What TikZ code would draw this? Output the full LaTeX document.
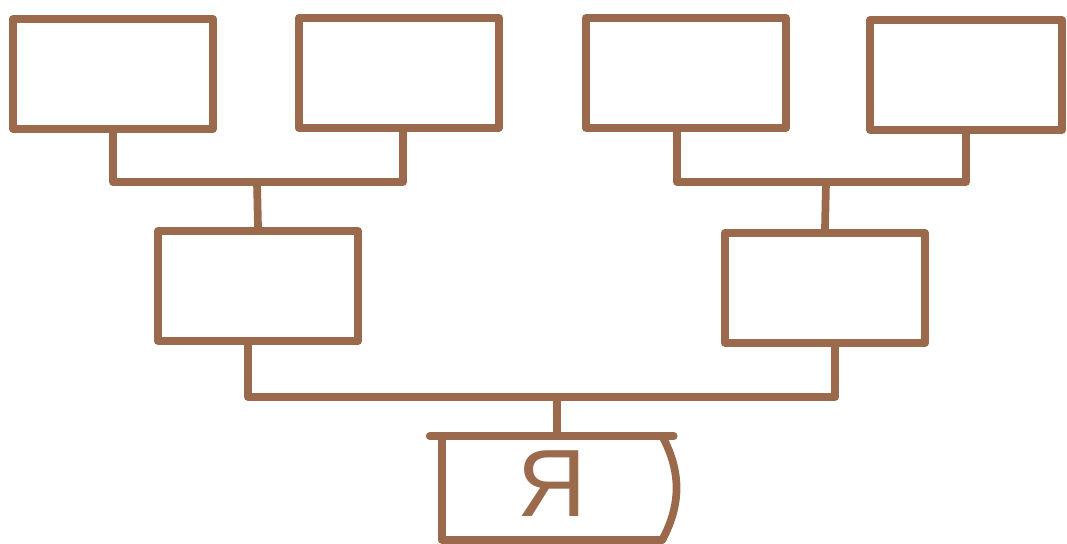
\documentclass[tikz,border=0pt]{standalone}
\usepackage{fontspec}
\newfontfamily\cyrfont{Liberation Sans}
\usetikzlibrary{positioning}
\definecolor{ink}{RGB}{155,106,76}

\begin{document}
\begin{tikzpicture}[x=0.025cm, y=-0.025cm,
  % Node styles
  box/.style={draw=ink, line width=5.5pt, line join=round, minimum width=5cm,
              minimum height=2.75cm, inner sep=0pt},
  mebox/.style={minimum width=5.5cm, minimum height=2.575cm, inner sep=0pt},
  melbl/.style={font=\cyrfont\fontsize{68}{68}\selectfont, text=ink, inner sep=2pt},
  % Line style
  ink/.style={draw=ink, line width=5.5pt, line cap=round, line join=round},
]
\useasboundingbox (0,0) rectangle (1067,544);

% === Row 1: grandparents ===
\node[box] (gp1) at (113,74) {};
\node[box] (gp2) at (399,73) {};
\node[box] (gp3) at (686,73) {};
\node[box, minimum width=4.8cm] (gp4) at (966,75) {};

% === Row 2: parents ===
\node[box] (p1) at (258,286) {};
\node[box] (p2) at (825,288) {};

% === Row 3: me ===
\node[mebox] (me) at (552,488) {};
\node[melbl] (mename) at ([yshift=0.1cm]me.center) {Я};

% === Junctions ===
\coordinate (j1) at (257,182);
\coordinate (j2) at (826,182);
\coordinate (j3) at (557,397);

% === Connectors ===
\draw[ink] (gp1.south) |- (j1) -| ([xshift=0.1cm]gp2.south);
\draw[ink] (j1) -- (p1.north);
\draw[ink] ([xshift=-0.22cm]gp3.south) |- (j2) -| (gp4.south);
\draw[ink] (j2) -- (p2.north);
\draw[ink] ([xshift=-0.25cm]p1.south) |- (j3) -| ([xshift=0.25cm]p2.south);
\draw[ink] (j3) -- (j3 |- me.north);

% === Open frame round me ===
\draw[ink] (me.north west) ++(-12,0) -- ++(244,0);
\draw[ink] (me.north west) -- (me.south west) -- (me.south east);
\draw[ink] (me.north east) to[bend left=28] (me.south east);

\end{tikzpicture}
\end{document}
